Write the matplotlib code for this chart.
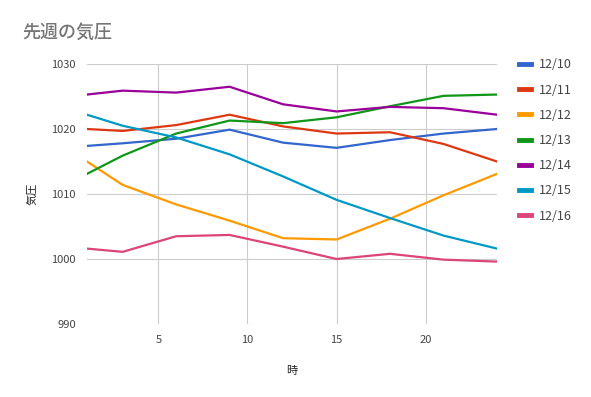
import matplotlib.pyplot as plt

plt.rcParams['font.family'] = ['Noto Sans CJK JP', 'DejaVu Sans']

hours = [1, 3, 6, 9, 12, 15, 18, 21, 24]
days = ['12/10', '12/11', '12/12', '12/13', '12/14', '12/15', '12/16']
d1210 = [1017.4, 1017.8, 1018.5, 1019.9, 1017.9, 1017.1, 1018.3, 1019.3, 1020.0]
d1211 = [1020.0, 1019.7, 1020.6, 1022.2, 1020.4, 1019.3, 1019.5, 1017.7, 1015.0]
d1212 = [1015.0, 1011.4, 1008.4, 1005.9, 1003.2, 1003.0, 1006.2, 1009.8, 1013.1]
d1213 = [1013.1, 1015.9, 1019.3, 1021.3, 1020.9, 1021.8, 1023.5, 1025.1, 1025.3]
d1214 = [1025.3, 1025.9, 1025.6, 1026.5, 1023.8, 1022.7, 1023.4, 1023.2, 1022.2]
d1215 = [1022.2, 1020.5, 1018.7, 1016.1, 1012.7, 1009.1, 1006.3, 1003.6, 1001.6]
d1216 = [1001.6, 1001.1, 1003.5, 1003.7, 1001.9, 1000.0, 1000.8, 999.9, 999.6]
series = [d1210, d1211, d1212, d1213, d1214, d1215, d1216]
colors = ['#3366cc', '#dc3912', '#ff9900', '#109618', '#990099', '#0099c6', '#dd4477']

fig = plt.figure(figsize=(5.91, 3.97), dpi=100)
ax = fig.add_axes([87/591, 1-324/397, 410/591, 260/397])

for vals, c, lab in zip(series, colors, days):
    ax.plot(hours, vals, color=c, lw=1.6, label=lab)

ax.set_xlim(1, 24)
ax.set_ylim(990, 1030)
ax.set_xticks([5, 10, 15, 20])
ax.set_yticks([990, 1000, 1010, 1020, 1030])
ax.grid(True, color='#cccccc', lw=0.8)
ax.set_axisbelow(True)
for s in ax.spines.values():
    s.set_visible(False)
ax.tick_params(length=0, labelsize=8, colors='#444444', pad=8)

ax.set_xlabel('時', fontsize=8, color='#222222', labelpad=15)
ax.set_ylabel('気圧', fontsize=8, color='#222222', labelpad=10)

fig.text(22/591, 1-33/397, '先週の気圧', fontsize=13, color='#757575',
         fontweight='medium', va='center')

leg = ax.legend(loc='upper left', bbox_to_anchor=(508/591, 1-47/397),
                bbox_transform=fig.transFigure, frameon=False, fontsize=9,
                handlelength=0.9, handletextpad=0.7, labelspacing=0.98,
                labelcolor='#444444')
for line in leg.get_lines():
    line.set_linewidth(3.5)

fig.savefig('out.png', dpi=100)
